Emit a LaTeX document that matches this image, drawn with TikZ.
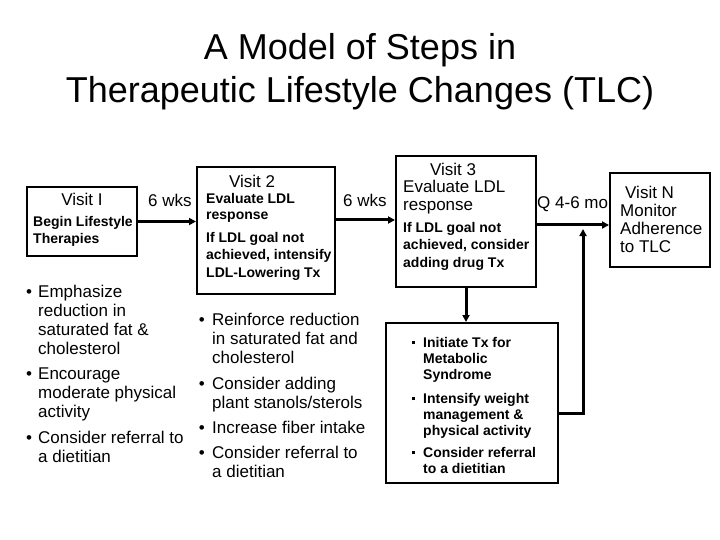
\documentclass[tikz,border=0pt]{standalone}
\usepackage{fontspec}
\setmainfont{Liberation Sans}
\usetikzlibrary{arrows.meta,positioning}
\tikzset{
  box/.style={draw, line width=2pt, inner sep=0pt},
  flow/.style={line width=3pt, -{Triangle[length=7pt,width=7pt]}},
  bigtxt/.style={font=\fontsize{17}{19}\selectfont, inner sep=0pt, align=left, anchor=north west},
  smalltxt/.style={font=\bfseries\fontsize{14}{17.5}\selectfont, inner sep=0pt, align=left, anchor=north west},
  gaptxt/.style={font=\fontsize{17}{19}\selectfont, inner sep=0pt, anchor=base west}
}
\newcommand{\dotitem}[1]{\llap{\textbullet\hspace{#1}}}
\newcommand{\sqitem}{\llap{\raisebox{3pt}{\rule{3.5pt}{3.5pt}}\hspace{8pt}}}
\begin{document}
\begin{tikzpicture}[x=1pt,y=-1pt]
    \useasboundingbox (0,0) rectangle (720,540);
    % title
    \node[font=\fontsize{36}{43}\selectfont, align=center, inner sep=0pt, anchor=north] (title) at (360,33)
        {A Model of Steps in\\Therapeutic Lifestyle Changes (TLC)};

    % visit boxes
    \node[box, minimum width=110pt, minimum height=69pt] (v1) at (82,221.5) {};
    \node[box, minimum width=138pt, minimum height=127pt] (v2) at (266,230.5) {};
    \node[box, minimum width=140pt, minimum height=131pt] (v3) at (466,221.5) {};
    \node[box, minimum width=100pt, minimum height=94pt] (vN) at (660,220) {};
    \node[box, minimum width=172pt, minimum height=160pt] (drug) at (472,403) {};

    % texts in the boxes
    \node[bigtxt, anchor=north] (v1head) at (82,193) {Visit I};
    \node[smalltxt] (v1body) at (33,216) {Begin Lifestyle\\Therapies};

    \node[bigtxt, anchor=north] (v2head) at (252,175) {Visit 2};
    \node[smalltxt, font=\bfseries\fontsize{14}{16}\selectfont] (v2eval) at (206,193) {Evaluate LDL\\response};
    \node[smalltxt] (v2goal) at (206,232) {If LDL goal not\\achieved, intensify\\LDL-Lowering Tx};

    \node[bigtxt, anchor=north] (v3head) at (453,163) {Visit 3};
    \node[bigtxt, font=\fontsize{17}{18}\selectfont] (v3eval) at (403,180) {Evaluate LDL\\response};
    \node[smalltxt] (v3goal) at (403,222) {If LDL goal not\\achieved, consider\\adding drug Tx};

    \node[bigtxt, font=\fontsize{17}{18}\selectfont] (vNbody) at (620,186)
        {\hspace*{5pt}Visit N\\Monitor\\Adherence\\to TLC};

    \node[smalltxt, font=\bfseries\fontsize{14}{16}\selectfont] (drugbody) at (423,337)
        {\sqitem Initiate Tx for\\Metabolic\\Syndrome\\[8pt]
         \sqitem Intensify weight\\management \&\\physical activity\\[6pt]
         \sqitem Consider referral\\to a dietitian};

    % intervals
    \node[gaptxt] (wk1) at (148,207) {6 wks};
    \node[gaptxt] (wk2) at (343,207) {6 wks};
    \node[gaptxt] (mo) at (537,209) {Q 4-6 mo};

    % bullet lists under the boxes
    \node[bigtxt] (tlc1) at (38,285)
        {\dotitem{6pt}Emphasize\\reduction in\\saturated fat \&\\cholesterol\\[6pt]
         \dotitem{6pt}Encourage\\moderate physical\\activity\\[7pt]
         \dotitem{6pt}Consider referral to\\a dietitian};
    \node[bigtxt] (tlc2) at (212,313)
        {\dotitem{7.3pt}Reinforce reduction\\in saturated fat and\\cholesterol\\[7pt]
         \dotitem{7.3pt}Consider adding\\plant stanols/sterols\\[6pt]
         \dotitem{7.3pt}Increase fiber intake\\[6pt]
         \dotitem{7.3pt}Consider referral to\\a dietitian};

    % connectors
    \coordinate (meet) at (583,229);
    \draw[flow] (v1.east) -- (v2.west |- v1.east);
    \draw[flow] (v2.east |- 0,220) -- (v3.west |- 0,220);
    \draw[flow] (v3.east |- 0,225) -- (vN.west |- 0,225);
    \draw[flow] (v3.south) -- (drug.north -| v3.south);
    \draw[flow] (drug.east |- 0,413) -| (meet);
\end{tikzpicture}
\end{document}
